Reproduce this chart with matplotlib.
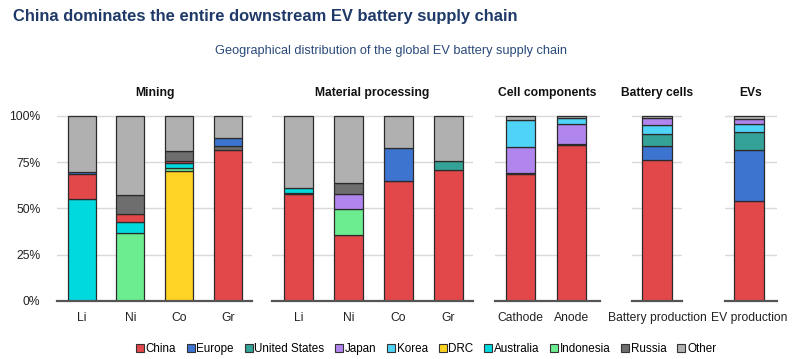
import matplotlib
matplotlib.use("Agg")
import matplotlib.pyplot as plt
import numpy as np
from matplotlib.lines import Line2D

plt.rcParams['font.family'] = ['Liberation Sans', 'DejaVu Sans']

countries = ["China", "Europe", "United States", "Japan", "Korea", "DRC",
             "Australia", "Indonesia", "Russia", "Other"]
colors = {
    "China": "#E2474A", "Europe": "#3D74D0", "United States": "#35A297",
    "Japan": "#B185EE", "Korea": "#4FD3F7", "DRC": "#FFD324",
    "Australia": "#00D9DD", "Indonesia": "#6CEE90", "Russia": "#6E6E6E",
    "Other": "#B0B0B0",
}

groups = ["Mining", "Material processing", "Cell components", "Battery cells", "EVs"]
group_labels = [["Li", "Ni", "Co", "Gr"], ["Li", "Ni", "Co", "Gr"],
                ["Cathode", "Anode"], ["Battery production"], ["EV production"]]

# shares (%) per bar: list of (country, value), stacked bottom-up
mining = [
    [("Australia", 55.0), ("China", 13.5), ("Europe", 1.2), ("Other", 30.3)],
    [("Indonesia", 36.8), ("Australia", 5.7), ("China", 4.5), ("Russia", 10.0), ("Other", 43.0)],
    [("DRC", 70.2), ("Indonesia", 1.4), ("Australia", 2.9), ("China", 1.1), ("Russia", 5.4), ("Other", 19.0)],
    [("China", 81.5), ("Russia", 2.3), ("Europe", 4.0), ("Other", 12.2)],
]
processing = [
    [("China", 57.5), ("United States", 1.0), ("Australia", 2.5), ("Other", 39.0)],
    [("China", 35.4), ("Indonesia", 14.3), ("Japan", 7.8), ("Russia", 6.2), ("Other", 36.3)],
    [("China", 64.6), ("Europe", 17.8), ("Other", 17.6)],
    [("China", 70.7), ("United States", 4.9), ("Other", 24.4)],
]
cells_comp = [
    [("China", 68.4), ("Europe", 0.9), ("Japan", 14.0), ("Korea", 14.7), ("Other", 2.0)],
    [("China", 84.2), ("Europe", 0.5), ("Japan", 10.8), ("Korea", 3.6), ("Other", 0.9)],
]
battery = [
    [("China", 76.3), ("Europe", 7.2), ("United States", 6.6), ("Korea", 4.9), ("Japan", 4.1), ("Other", 0.9)],
]
evs = [
    [("China", 54.0), ("Europe", 27.5), ("United States", 9.9), ("Korea", 4.1), ("Japan", 2.7), ("Other", 1.8)],
]
data = [mining, processing, cells_comp, battery, evs]

W, H = 800, 359
fig = plt.figure(figsize=(W / 100, H / 100), dpi=100)

# axes extents in pixels: (left, right), and x-limits
ax_px = [(57, 252), (272, 473), (495, 600), (632, 682), (725, 777)]
xlims = [(-0.507, 3.5), (-0.53, 3.49), (-0.5, 1.565), (-0.5, 0.5), (-0.47, 0.55)]
bar_w = [0.575, 0.57, 0.57, 0.6, 0.6]
y0_px, y100_px = 300.7, 115.0
bottom = (H - y0_px) / H
height = (y0_px - y100_px) / H

edge = "#2b2b2b"
fs = 8.7
for gi, bars in enumerate(data):
    gname = groups[gi]
    l, r = ax_px[gi]
    ax = fig.add_axes([l / W, bottom, (r - l) / W, height])
    x = np.arange(len(bars))
    for bi, stack in enumerate(bars):
        b = 0.0
        for c, v in stack:
            ax.bar(x[bi], v, bottom=b, width=bar_w[gi], color=colors[c],
                   edgecolor=edge, linewidth=0.9, zorder=3)
            b += v
    ax.set_xlim(*xlims[gi])
    ax.set_ylim(0, 100.5)
    ax.set_yticks([0, 25, 50, 75, 100])
    ax.yaxis.grid(True, color="#d9d9d9", linewidth=1.0, zorder=0)
    ax.set_axisbelow(True)
    for s in ["top", "right", "left"]:
        ax.spines[s].set_visible(False)
    ax.spines["bottom"].set_color("#555555")
    ax.spines["bottom"].set_linewidth(1.6)
    ax.spines["bottom"].set_zorder(4)
    ax.set_xticks(x)
    ax.set_xticklabels(group_labels[gi], fontsize=fs, color="#222222")
    ax.tick_params(axis="x", length=0, pad=8)
    if gi == 0:
        ax.set_yticklabels(["0%", "25%", "50%", "75%", "100%"], fontsize=fs, color="#222222")
        ax.tick_params(axis="y", length=0, pad=12)
    else:
        ax.tick_params(axis="y", length=0, labelleft=False)
    ax.set_title(gname, fontsize=8.7, fontweight="bold", pad=14, color="#111111")

fig.text(13 / W, 1 - 16 / H, "China dominates the entire downstream EV battery supply chain",
         fontsize=11.9, fontweight="bold", color="#1F3A68", va="center", ha="left")
fig.text(391 / W, 1 - 51 / H, "Geographical distribution of the global EV battery supply chain",
         fontsize=9.2, color="#2A4A7A", va="center", ha="center")

handles = [Line2D([0], [0], marker="s", linestyle="none", markersize=5.5,
                  markerfacecolor=colors[c], markeredgecolor="#333333",
                  markeredgewidth=0.8) for c in countries]
fig.legend(handles, countries, loc="center", bbox_to_anchor=(426 / W, 1 - 349 / H),
           ncol=len(countries), frameon=False, fontsize=8.4, handlelength=0.7,
           handletextpad=0.15, columnspacing=0.9, borderaxespad=0)

fig.savefig("out.png", dpi=100)
